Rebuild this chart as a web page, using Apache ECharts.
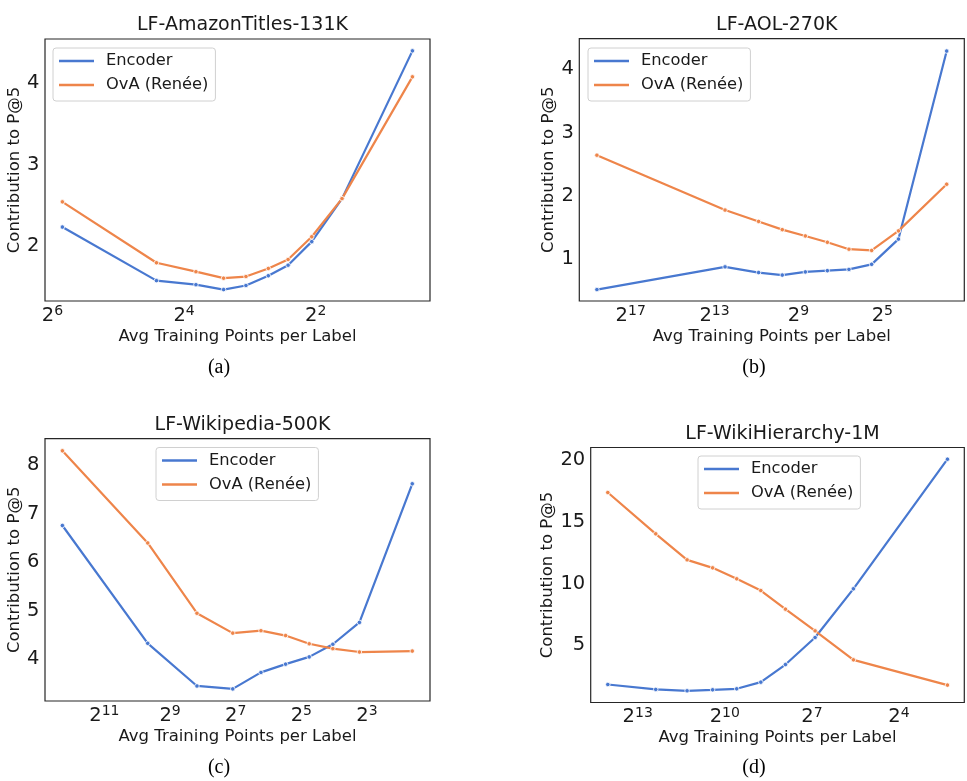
<!DOCTYPE html>
<html><head><meta charset="utf-8">
<script src="https://cdn.jsdelivr.net/npm/echarts@6/dist/echarts.min.js"></script>
<style>html,body{margin:0;padding:0;background:#fff}#c{width:967px;height:781px}</style>
</head><body><div id="c"></div>
<script>
// ---- data (x = log2 of average training points per label) ----
const titles = ['LF-AmazonTitles-131K', 'LF-AOL-270K', 'LF-Wikipedia-500K', 'LF-WikiHierarchy-1M'];
const captions = ['(a)', '(b)', '(c)', '(d)'];
const seriesNames = ['Encoder', 'OvA (Renée)'];
const xLabel = 'Avg Training Points per Label';
const yLabel = 'Contribution to P@5';

const aX   = [5.85, 4.42, 3.82, 3.40, 3.06, 2.72, 2.42, 2.06, 1.60, 0.53];
const aEnc = [2.23, 1.57, 1.52, 1.46, 1.51, 1.63, 1.76, 2.05, 2.58, 4.40];
const aOva = [2.54, 1.79, 1.68, 1.60, 1.62, 1.72, 1.83, 2.11, 2.58, 4.08];
const aXTicks = [2, 4, 6];
const aYTicks = [2, 3, 4];

const bX   = [18.61, 12.50, 10.90, 9.77, 8.67, 7.62, 6.59, 5.51, 4.23, 1.93];
const bEnc = [0.51, 0.87, 0.78, 0.74, 0.79, 0.81, 0.83, 0.91, 1.31, 4.29];
const bOva = [2.64, 1.77, 1.59, 1.46, 1.36, 1.26, 1.15, 1.13, 1.44, 2.18];
const bXTicks = [5, 9, 13, 17];
const bYTicks = [1, 2, 3, 4];

const cX   = [12.28, 9.68, 8.18, 7.09, 6.23, 5.48, 4.76, 4.04, 3.23, 1.62];
const cEnc = [6.76, 4.33, 3.45, 3.39, 3.73, 3.90, 4.05, 4.31, 4.76, 7.62];
const cOva = [8.30, 6.40, 4.95, 4.54, 4.59, 4.49, 4.32, 4.22, 4.15, 4.17];
const cXTicks = [3, 5, 7, 9, 11];
const cYTicks = [4, 5, 6, 7, 8];

const dX   = [14.03, 12.38, 11.30, 10.42, 9.59, 8.76, 7.91, 6.89, 5.57, 2.33];
const dEnc = [1.81, 1.41, 1.30, 1.38, 1.46, 2.00, 3.43, 5.62, 9.57, 20.08];
const dOva = [17.38, 14.03, 11.92, 11.27, 10.38, 9.43, 7.92, 6.16, 3.81, 1.76];
const dXTicks = [4, 7, 10, 13];
const dYTicks = [5, 10, 15, 20];

// ---- layout (positions / styles only) ----
const panels = [
  {x: aX, enc: aEnc, ova: aOva, xt: aXTicks, yt: aYTicks,
   grid: {left: 45, top: 39, width: 385, height: 262}, xr: [0.263, 6.114], yr: [1.319, 4.546],
   titleTop: 11, legend: {left: 53, top: 48}, cap: [219, 368]},
  {x: bX, enc: bEnc, ova: bOva, xt: bXTicks, yt: bYTicks,
   grid: {left: 579.3, top: 38.7, width: 385, height: 262.3}, xr: [1.09, 19.45], yr: [0.329, 4.486],
   titleTop: 11, legend: {left: 588, top: 48}, cap: [754, 368]},
  {x: cX, enc: cEnc, ova: cOva, xt: cXTicks, yt: cYTicks,
   grid: {left: 45, top: 438.7, width: 385, height: 262.3}, xr: [1.08, 12.81], yr: [3.14, 8.55],
   titleTop: 411, legend: {left: 156, top: 447.5}, cap: [219, 768]},
  {x: dX, enc: dEnc, ova: dOva, xt: dXTicks, yt: dYTicks,
   grid: {left: 590.7, top: 447.5, width: 373.6, height: 255}, xr: [1.75, 14.62], yr: [0.35, 21.03],
   titleTop: 420, legend: {left: 698, top: 456}, cap: [754, 768]}
];

const BLUE = '#4878d0', ORANGE = '#ee854a', INK = '#1a1a1a';
const FONT = 'DejaVu Sans';

const option = {
  animation: false,
  backgroundColor: '#fff',
  textStyle: {fontFamily: FONT, color: INK},
  title: [], legend: [], grid: [], xAxis: [], yAxis: [], series: [], graphic: []
};

panels.forEach((p, i) => {
  option.grid.push(Object.assign({show: true, borderColor: '#262626', borderWidth: 1.2,
    backgroundColor: 'transparent', containLabel: false}, p.grid));
  option.title.push({
    text: titles[i], left: p.grid.left + p.grid.width / 2, top: p.titleTop, textAlign: 'center',
    textStyle: {fontFamily: FONT, fontSize: 19, fontWeight: 'normal', color: INK}
  });
  option.legend.push({
    orient: 'vertical', left: p.legend.left, top: p.legend.top,
    data: seriesNames, icon: 'rect', itemWidth: 35, itemHeight: 2.6, itemGap: 0,
    itemStyle: {borderWidth: 0, borderColor: 'transparent'},
    padding: [1, 7, 4, 6],
    backgroundColor: 'rgba(255,255,255,0.85)', borderColor: '#d0d0d0', borderWidth: 1, borderRadius: 3,
    textStyle: {fontFamily: FONT, fontSize: 16.3, color: INK, lineHeight: 24, padding: [0, 0, 0, 7]},
    selectedMode: false
  });
  option.xAxis.push({
    gridIndex: i, type: 'value', inverse: true, min: p.xr[0], max: p.xr[1],
    name: xLabel, nameLocation: 'middle', nameGap: 27,
    nameTextStyle: {fontFamily: FONT, fontSize: 16.5, color: INK},
    axisLine: {show: false}, axisTick: {show: false}, splitLine: {show: false},
    axisLabel: {
      customValues: p.xt, margin: 3.5, color: INK,
      formatter: v => '{b|2}{s|' + v + '}',
      rich: {
        b: {fontFamily: FONT, fontSize: 19.5, lineHeight: 22, color: INK},
        s: {fontFamily: FONT, fontSize: 14, lineHeight: 12, verticalAlign: 'top', color: INK}
      }
    }
  });
  option.yAxis.push({
    gridIndex: i, type: 'value', min: p.yr[0], max: p.yr[1],
    name: yLabel, nameLocation: 'middle', nameGap: 18,
    nameTextStyle: {fontFamily: FONT, fontSize: 16.5, color: INK},
    axisLine: {show: false}, axisTick: {show: false}, splitLine: {show: false},
    axisLabel: {customValues: p.yt, margin: 5.5, fontFamily: FONT, fontSize: 19.5, color: INK}
  });
  [[p.enc, BLUE, 0], [p.ova, ORANGE, 1]].forEach(([vals, col, k]) => {
    option.series.push({
      type: 'line', name: seriesNames[k], xAxisIndex: i, yAxisIndex: i,
      data: p.x.map((xv, j) => [xv, vals[j]]),
      symbol: 'circle', symbolSize: 4.5, showSymbol: true,
      lineStyle: {color: col, width: 2.2},
      itemStyle: {color: col, borderColor: '#fff', borderWidth: 0.8},
      z: 2 + k
    });
  });
  option.graphic.push({
    type: 'text', x: p.cap[0], y: p.cap[1],
    style: {text: captions[i], fontFamily: 'Liberation Serif', fontSize: 20, fill: '#000',
      align: 'center', verticalAlign: 'middle'}
  });
});

const chart = echarts.init(document.getElementById('c'), null, {renderer: 'canvas'});
chart.setOption(option);
</script></body></html>
